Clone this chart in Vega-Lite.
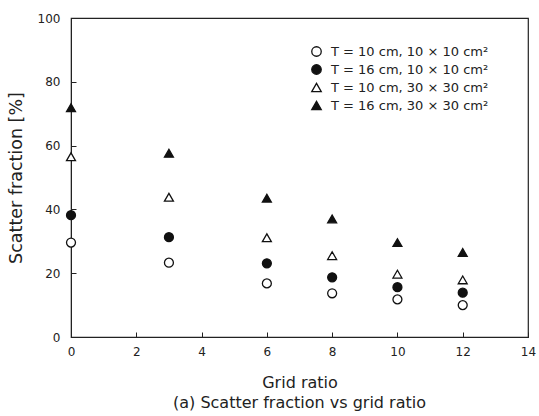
{
  "$schema": "https://vega.github.io/schema/vega-lite/v6.json",
  "autosize": "none",
  "width": 457,
  "height": 319,
  "padding": {"left": 71, "top": 18, "right": 11, "bottom": 79},
  "background": "white",
  "view": {"stroke": "#222", "strokeWidth": 1.2, "fill": "white"},
  "config": {
    "font": "DejaVu Sans",
    "axis": {"labelFont": "DejaVu Sans", "titleFont": "DejaVu Sans", "labelColor": "#222", "titleColor": "#222", "titleFontWeight": "normal", "labelFontSize": 12, "titleFontSize": 16, "domainColor": "#222", "tickColor": "#222", "grid": false, "labelFlush": false}
  },
  "title": {"text": "(a) Scatter fraction vs grid ratio", "orient": "bottom", "anchor": "middle", "font": "DejaVu Sans", "fontSize": 16, "fontWeight": "normal", "color": "#222", "offset": 5},
  "data": {"values": [
    {"g": 0, "sf": 29.6, "s": "T = 10 cm, 10 × 10 cm²"},
    {"g": 3, "sf": 23.3, "s": "T = 10 cm, 10 × 10 cm²"},
    {"g": 6, "sf": 16.8, "s": "T = 10 cm, 10 × 10 cm²"},
    {"g": 8, "sf": 13.7, "s": "T = 10 cm, 10 × 10 cm²"},
    {"g": 10, "sf": 11.8, "s": "T = 10 cm, 10 × 10 cm²"},
    {"g": 12, "sf": 10.0, "s": "T = 10 cm, 10 × 10 cm²"},
    {"g": 0, "sf": 38.2, "s": "T = 16 cm, 10 × 10 cm²"},
    {"g": 3, "sf": 31.3, "s": "T = 16 cm, 10 × 10 cm²"},
    {"g": 6, "sf": 23.1, "s": "T = 16 cm, 10 × 10 cm²"},
    {"g": 8, "sf": 18.7, "s": "T = 16 cm, 10 × 10 cm²"},
    {"g": 10, "sf": 15.6, "s": "T = 16 cm, 10 × 10 cm²"},
    {"g": 12, "sf": 13.9, "s": "T = 16 cm, 10 × 10 cm²"},
    {"g": 0, "sf": 56.5, "s": "T = 10 cm, 30 × 30 cm²"},
    {"g": 3, "sf": 43.8, "s": "T = 10 cm, 30 × 30 cm²"},
    {"g": 6, "sf": 31.1, "s": "T = 10 cm, 30 × 30 cm²"},
    {"g": 8, "sf": 25.5, "s": "T = 10 cm, 30 × 30 cm²"},
    {"g": 10, "sf": 19.7, "s": "T = 10 cm, 30 × 30 cm²"},
    {"g": 12, "sf": 17.9, "s": "T = 10 cm, 30 × 30 cm²"},
    {"g": 0, "sf": 71.9, "s": "T = 16 cm, 30 × 30 cm²"},
    {"g": 3, "sf": 57.6, "s": "T = 16 cm, 30 × 30 cm²"},
    {"g": 6, "sf": 43.5, "s": "T = 16 cm, 30 × 30 cm²"},
    {"g": 8, "sf": 37.0, "s": "T = 16 cm, 30 × 30 cm²"},
    {"g": 10, "sf": 29.6, "s": "T = 16 cm, 30 × 30 cm²"},
    {"g": 12, "sf": 26.5, "s": "T = 16 cm, 30 × 30 cm²"}
  ]},
  "mark": {"type": "point", "size": 80, "strokeWidth": 1.3, "opacity": 1, "filled": true},
  "encoding": {
    "x": {"field": "g", "type": "quantitative", "title": "Grid ratio",
      "scale": {"domain": [0, 14], "nice": false, "zero": true},
      "axis": {"values": [0, 2, 4, 6, 8, 10, 12, 14], "tickSize": -5, "labelPadding": 14, "titlePadding": 17, "domain": true}},
    "y": {"field": "sf", "type": "quantitative", "title": "Scatter fraction [%]",
      "scale": {"domain": [0, 100], "nice": false},
      "axis": {"values": [0, 20, 40, 60, 80, 100], "tickSize": -5, "labelPadding": 16, "titlePadding": 12, "titleFontSize": 17.5}},
    "shape": {"field": "s", "type": "nominal", "sort": null,
      "scale": {"domain": ["T = 10 cm, 10 × 10 cm²", "T = 16 cm, 10 × 10 cm²", "T = 10 cm, 30 × 30 cm²", "T = 16 cm, 30 × 30 cm²"], "range": ["circle", "circle", "triangle-up", "triangle-up"]},
      "legend": {"title": null, "orient": "none", "legendX": 239, "legendY": 27, "labelFontSize": 13, "labelFont": "DejaVu Sans", "labelColor": "#222", "symbolSize": 90, "symbolStrokeWidth": 1.3, "rowPadding": 3, "labelOffset": 8, "labelLimit": 300}},
    "fill": {"field": "s", "type": "nominal", "sort": null,
      "scale": {"domain": ["T = 10 cm, 10 × 10 cm²", "T = 16 cm, 10 × 10 cm²", "T = 10 cm, 30 × 30 cm²", "T = 16 cm, 30 × 30 cm²"], "range": ["white", "#111", "white", "#111"]},
      "legend": {"title": null}},
    "stroke": {"field": "s", "type": "nominal", "sort": null,
      "scale": {"domain": ["T = 10 cm, 10 × 10 cm²", "T = 16 cm, 10 × 10 cm²", "T = 10 cm, 30 × 30 cm²", "T = 16 cm, 30 × 30 cm²"], "range": ["#111", "#111", "#111", "#111"]},
      "legend": {"title": null}}
  }
}
